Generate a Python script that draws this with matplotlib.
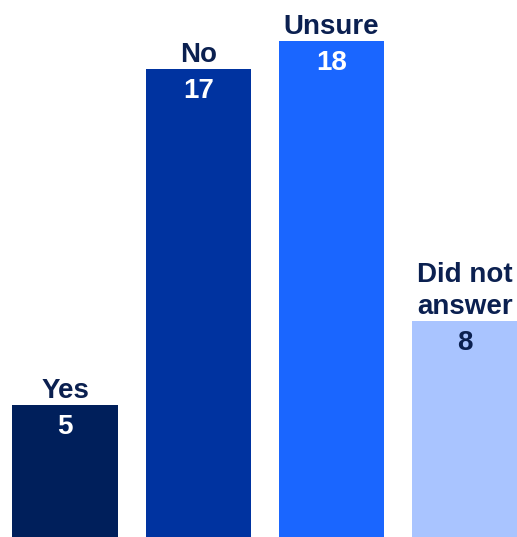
import matplotlib
matplotlib.use("Agg")
import matplotlib.pyplot as plt

categories = ["Yes", "No", "Unsure", "Did not\nanswer"]
values = [5, 17, 18, 8]
colors = ["#001f5b", "#0033a0", "#1a66ff", "#a9c4ff"]
value_colors = ["white", "white", "white", "#0b2050"]
label_color = "#0b2050"

W, H = 517, 537
fig = plt.figure(figsize=(W / 100, H / 100), dpi=100)
ax = fig.add_axes([0, -8 / H, 1, 545 / H])
x = list(range(len(values)))
ax.bar(x, values, width=0.79, color=colors)
ax.set_xlim(-0.488, 3.393)
ax.set_ylim(0, 545 / 28)
ax.axis("off")

for xi, v, lab, vc in zip(x, values, categories, value_colors):
    ax.annotate(lab, (xi, v), xytext=(0, 0.5), textcoords="offset points",
                ha="center", va="bottom", fontsize=20, fontweight="bold",
                color=label_color, family="Liberation Sans", linespacing=1.32)
    ax.annotate(str(v), (xi, v), xytext=(0, -6.5), textcoords="offset points",
                ha="center", va="top", fontsize=20, fontweight="bold",
                color=vc, family="Liberation Sans")

fig.savefig("out.png", dpi=100)
